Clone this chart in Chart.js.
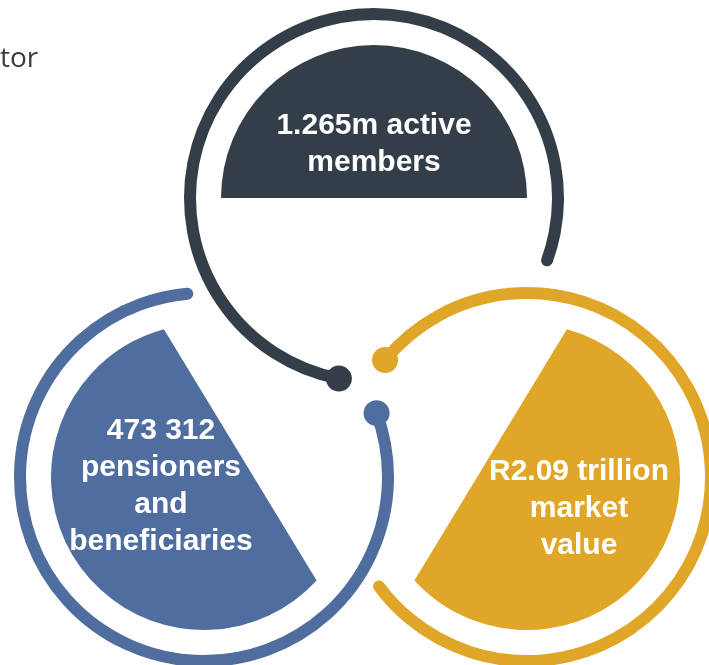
<!DOCTYPE html>
<html>
<head>
<meta charset="utf-8">
<style>
  html, body { margin: 0; padding: 0; background: #ffffff; }
  #wrap { position: relative; width: 709px; height: 665px; overflow: hidden; }
  canvas { display: block; }
</style>
<script src="https://cdn.jsdelivr.net/npm/chart.js@4.4.0/dist/chart.umd.min.js"></script>
</head>
<body>
<div id="wrap"><canvas id="c" width="709" height="665"></canvas></div>
<script>
// ---- data ----
const categories = ['Active members', 'Pensioners and beneficiaries', 'Market value'];
const labelLines = [
  ['1.265m active', 'members'],
  ['473 312', 'pensioners', 'and', 'beneficiaries'],
  ['R2.09 trillion', 'market', 'value']
];
const headerText = 'tor';

// ---- layout (positions in the chart's own x/y value space) ----
const colors = ['#343e49', '#4f6d9f', '#e0a628'];
const centersX = [374, 204, 527];
const centersY = [198, 477, 477];
const ringRadius = 184;
const fillRadius = 153;
// ring arcs: start, end (degrees), drawn clockwise; dot at dotAngle
const ringStart = [-259, -20.3, 219.5];
const ringEnd = [19.8, 264.8, 503.5];
const dotAngle = [101, -20.3, 219.5];
// filled segment arcs (clockwise) closed with a chord
const fillStart = [180, 42.6, -74.9];
const fillEnd = [360, 254.8, 137.4];
const labelX = [374, 161, 579];
const labelY = [134, 439, 480];
const lineStep = 37;

const rad = d => d * Math.PI / 180;

const infographic = {
  id: 'infographic',
  afterDatasetsDraw(chart) {
    const { ctx, scales: { x, y } } = chart;
    const px = v => x.getPixelForValue(v);
    const py = v => y.getPixelForValue(v);
    const pr = (cx, r) => px(cx + r) - px(cx);
    ctx.save();
    categories.forEach((cat, i) => {
      const cx = px(centersX[i]), cy = py(centersY[i]);
      const rr = pr(centersX[i], ringRadius);
      const fr = pr(centersX[i], fillRadius);
      // filled segment
      ctx.beginPath();
      ctx.arc(cx, cy, fr, rad(fillStart[i]), rad(fillEnd[i]), false);
      ctx.closePath();
      ctx.fillStyle = colors[i];
      ctx.fill();
      // ring
      ctx.beginPath();
      ctx.arc(cx, cy, rr, rad(ringStart[i]), rad(ringEnd[i]), false);
      ctx.strokeStyle = colors[i];
      ctx.lineWidth = 12;
      ctx.lineCap = 'round';
      ctx.stroke();
      // dot
      const a = rad(dotAngle[i]);
      ctx.beginPath();
      ctx.arc(cx + rr * Math.cos(a), cy + rr * Math.sin(a), 13, 0, Math.PI * 2);
      ctx.fillStyle = colors[i];
      ctx.fill();
      // label
      ctx.fillStyle = '#ffffff';
      ctx.font = 'bold 30px "Liberation Sans", Arial, sans-serif';
      ctx.textAlign = 'center';
      ctx.textBaseline = 'alphabetic';
      labelLines[i].forEach((ln, k) => {
        ctx.fillText(ln, px(labelX[i]), py(labelY[i] + k * lineStep));
      });
    });
    // header fragment
    ctx.fillStyle = '#3c3c3c';
    ctx.font = '28px "Open Sans", sans-serif';
    ctx.textAlign = 'left';
    ctx.fillText(headerText, px(0), py(67));
    ctx.restore();
  }
};

new Chart(document.getElementById('c'), {
  type: 'scatter',
  data: { datasets: [{ label: 'layout', data: [], showLine: false }] },
  options: {
    responsive: false,
    animation: false,
    layout: { padding: 0 },
    plugins: { legend: { display: false }, tooltip: { enabled: false }, title: { display: false } },
    scales: {
      x: { type: 'linear', min: 0, max: 709, display: false },
      y: { type: 'linear', min: 0, max: 665, reverse: true, display: false }
    }
  },
  plugins: [infographic]
});
</script>
</body>
</html>
